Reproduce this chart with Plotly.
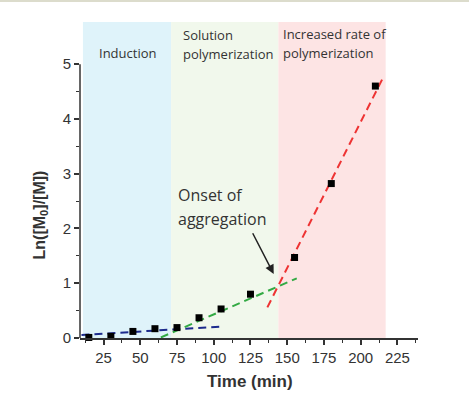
import plotly.graph_objects as go

# Data
time_min = [15, 30, 45, 60, 75, 90, 105, 125, 155, 180, 210]
ln_ratio = [0.01, 0.03, 0.12, 0.17, 0.19, 0.37, 0.53, 0.80, 1.47, 2.82, 4.60]

# Fit lines (endpoints)
fit_induction_x = [10, 106.5]
fit_induction_y = [0.055, 0.21]
fit_solution_x = [64, 156.5]
fit_solution_y = [0.01, 1.09]
fit_aggreg_x = [136.5, 215.5]
fit_aggreg_y = [0.56, 4.77]

# Regions
regions = [(11, 71, "#dff3fa"), (71, 144, "#f1f8ec"), (144, 217, "#fde4e4")]
x_ticks = [25, 50, 75, 100, 125, 150, 175, 200, 225]
y_ticks = [0, 1, 2, 3, 4, 5]

YMAX = 5.77
fig = go.Figure()

shapes = []
for x0, x1, c in regions:
    shapes.append(dict(type="rect", xref="x", yref="y", x0=x0, x1=x1, y0=0, y1=YMAX,
                       fillcolor=c, line=dict(width=0), layer="below"))
# y axis line only to 5
shapes.append(dict(type="line", xref="paper", yref="y", x0=0, x1=0, y0=0, y1=5,
                   line=dict(color="#333", width=1.5)))
# top border line
shapes.append(dict(type="line", xref="paper", yref="paper", x0=-80/338, x1=389/338,
                   y0=1 + 21/316, y1=1 + 21/316, line=dict(color="#dcdccc", width=2)))

DASH = "8px,5px"
fig.add_trace(go.Scatter(x=fit_induction_x, y=fit_induction_y, mode="lines",
                         line=dict(color="#1c2a8c", width=2, dash=DASH), showlegend=False))
fig.add_trace(go.Scatter(x=fit_solution_x, y=fit_solution_y, mode="lines",
                         line=dict(color="#33aa44", width=2, dash=DASH), showlegend=False))
fig.add_trace(go.Scatter(x=fit_aggreg_x, y=fit_aggreg_y, mode="lines",
                         line=dict(color="#ee3333", width=2, dash=DASH), showlegend=False))
fig.add_trace(go.Scatter(x=time_min, y=ln_ratio, mode="markers", cliponaxis=False,
                         marker=dict(symbol="square", size=7, color="black"), showlegend=False))

hdr_font = dict(family="Open Sans", size=13, color="#333")
ann = []
def txt(x, y, s, font, xanchor="left"):
    ann.append(dict(x=x, y=y, xref="x", yref="y", text=s, showarrow=False,
                    xanchor=xanchor, yanchor="middle", font=font))

txt(41, 5.2, "Induction", hdr_font, xanchor="center")
txt(77.5, 5.53, "Solution", hdr_font)
txt(77.5, 5.18, "polymerization", hdr_font)
txt(145.5, 5.55, "Increased rate of", hdr_font)
txt(145.5, 5.20, "polymerization", hdr_font)
on_font = dict(family="Open Sans", size=16, color="#333")
txt(74.5, 2.61, "Onset of", on_font)
txt(74.5, 2.17, "aggregation", on_font)

ann.append(dict(x=140.8, y=1.17, ax=126, ay=1.94, xref="x", yref="y", axref="x", ayref="y",
                showarrow=True, arrowhead=2, arrowsize=1.2, arrowwidth=1.5, arrowcolor="#222", text=""))

ann.append(dict(x=125, y=-0.139, xref="x", yref="paper", text="<b>Time (min)</b>", showarrow=False,
                xanchor="center", yanchor="middle",
                font=dict(family="Liberation Sans", size=17, color="#333")))
ann.append(dict(x=-0.118, y=2.24, xref="paper", yref="y", text="<b>Ln([M<sub>0</sub>]/[M])</b>",
                showarrow=False, textangle=-90, xanchor="center", yanchor="middle",
                font=dict(family="Liberation Sans", size=16, color="#333")))

fig.update_layout(
    width=469, height=394,
    margin=dict(l=80, r=51, t=22, b=56),
    plot_bgcolor="white", paper_bgcolor="white",
    shapes=shapes, annotations=ann,
    xaxis=dict(range=[9, 239], showgrid=False, zeroline=False, showline=True,
               linecolor="#333", linewidth=1.5, ticks="outside", ticklen=5, tickwidth=1.5,
               tickcolor="#333", tickvals=x_ticks,
               tickfont=dict(family="Liberation Sans", size=15, color="#333"),
               minor=dict(tickvals=[12.5 + 25 * i for i in range(10)], ticks="outside",
                          ticklen=3, tickwidth=1.2, tickcolor="#333")),
    yaxis=dict(range=[0, YMAX], showgrid=False, zeroline=False, showline=False,
               ticks="outside", ticklen=5, tickwidth=1.5, tickcolor="#333", tickvals=y_ticks,
               tickfont=dict(family="Liberation Sans", size=15, color="#333"),
               minor=dict(tickvals=[0.5, 1.5, 2.5, 3.5, 4.5], ticks="outside",
                          ticklen=3, tickwidth=1.2, tickcolor="#333")),
)

fig.write_html("out.html")
